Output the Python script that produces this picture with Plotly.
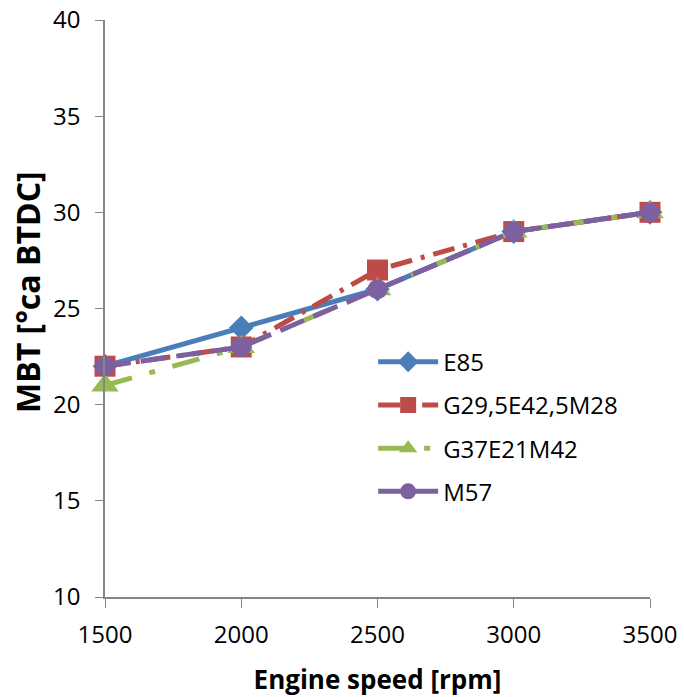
import plotly.graph_objects as go

speed = [1500, 2000, 2500, 3000, 3500]
e85 = [22, 24, 26, 29, 30]
g29 = [22, 23, 27, 29, 30]
g37 = [21, 23, 26, 29, 30]
m57 = [22, 23, 26, 29, 30]

series = [
    ("E85", e85, "#4a7ebb", "solid", "diamond", 19),
    ("G29,5E42,5M28", g29, "#be4b48", "22px,9px,4px,9px", "square", 21),
    ("G37E21M42", g37, "#98b954", "28px,18px,6px,18px", "triangle-up", 24),
    ("M57", m57, "#7d60a0", "26px,10px", "circle", 20),
]

fig = go.Figure()
for i, (name, vals, col, dash, sym, sz) in enumerate(series):
    fig.add_trace(go.Scatter(
        x=speed, y=vals, name=name, mode="lines+markers", legendgroup=f"g{i}",
        line=dict(color=col, width=5, dash=dash),
        marker=dict(symbol=sym, size=sz, color=col),
        cliponaxis=False,
    ))

fig.update_layout(
    width=684, height=697,
    margin=dict(l=105, r=34, t=20, b=100, autoexpand=False),
    paper_bgcolor="white", plot_bgcolor="white",
    font=dict(family="Open Sans, Liberation Sans, sans-serif", size=24, color="black"),
    showlegend=True,
    legend=dict(x=0.492, y=0.446, xanchor="left", yanchor="top",
                font=dict(size=24), tracegroupgap=9, itemwidth=60,
                bgcolor="rgba(0,0,0,0)"),
    xaxis=dict(range=[1500, 3500], tickvals=speed, showgrid=False, zeroline=False,
               showline=True, linecolor="#868686", linewidth=1.5,
               ticks="outside", ticklen=9, tickcolor="#868686",
               tickfont=dict(size=24), automargin=False, ticklabelstandoff=6,
               ticklabeloverflow="allow",
               title=dict(text="<b>Engine speed [rpm]</b>", font=dict(size=26), standoff=24)),
    yaxis=dict(range=[10, 40], tickvals=[10, 15, 20, 25, 30, 35, 40], showgrid=False,
               zeroline=False, showline=True, linecolor="#868686", linewidth=1.5,
               ticks="outside", ticklen=8, tickcolor="#868686",
               tickfont=dict(size=24), automargin=False, ticklabelstandoff=10,
               ticklabeloverflow="allow"),
    annotations=[dict(text="<b>MBT [°ca BTDC]</b>", textangle=-90,
                      xref="paper", yref="paper", x=-0.142, y=0.528,
                      xanchor="center", yanchor="middle", showarrow=False,
                      font=dict(size=32))],
)

fig.write_html("out.html", config={"displayModeBar": False},
               post_script="document.body.style.margin='0';")
